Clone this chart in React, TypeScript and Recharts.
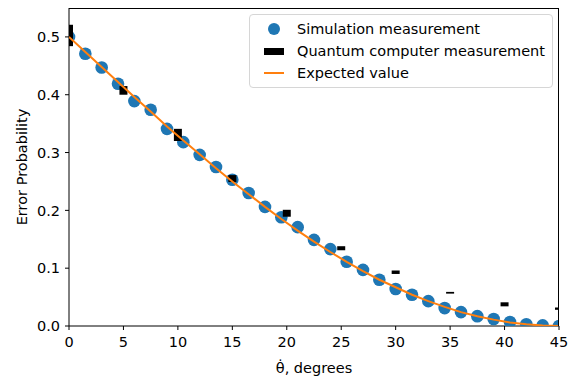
import { ComposedChart, Scatter, XAxis, YAxis } from "recharts";

const simAngles = [0, 1.5, 3, 4.5, 6, 7.5, 9, 10.5, 12, 13.5, 15, 16.5, 18, 19.5, 21, 22.5, 24, 25.5, 27, 28.5, 30, 31.5, 33, 34.5, 36, 37.5, 39, 40.5, 42, 43.5, 45];
const simValues = [0.5, 0.471, 0.447, 0.419, 0.389, 0.374, 0.341, 0.318, 0.296, 0.275, 0.253, 0.23, 0.206, 0.188, 0.171, 0.149, 0.133, 0.111, 0.097, 0.08, 0.064, 0.054, 0.043, 0.031, 0.024, 0.017, 0.012, 0.007, 0.003, 0.001, 0.0];

const qcAngles = [0, 5, 10, 15, 20, 25, 30, 35, 40, 45];
const qcLow = [0.484, 0.4, 0.32, 0.249, 0.189, 0.131, 0.09, 0.056, 0.034, 0.028];
const qcHigh = [0.521, 0.415, 0.341, 0.261, 0.201, 0.138, 0.096, 0.059, 0.041, 0.032];

const expAngles = [0, 1.5, 3, 4.5, 6, 7.5, 9, 10.5, 12, 13.5, 15, 16.5, 18, 19.5, 21, 22.5, 24, 25.5, 27, 28.5, 30, 31.5, 33, 34.5, 36, 37.5, 39, 40.5, 42, 43.5, 45];
const expValues = [0.5, 0.474, 0.448, 0.422, 0.396, 0.371, 0.345, 0.321, 0.297, 0.273, 0.25, 0.228, 0.206, 0.185, 0.165, 0.146, 0.128, 0.111, 0.095, 0.08, 0.067, 0.054, 0.043, 0.033, 0.024, 0.017, 0.011, 0.006, 0.003, 0.001, 0.0];

const xTicks = [0, 5, 10, 15, 20, 25, 30, 35, 40, 45];
const yTicks = [0, 0.1, 0.2, 0.3, 0.4, 0.5];

const BLUE = "#1f77b4";
const ORANGE = "#ff7f0e";
const FONT = "'DejaVu Sans', sans-serif";
const FS = 14.5;

const simData = simAngles.map((x, i) => ({ x, y: simValues[i] }));
const qcBars = qcAngles.map((x, i) => [
	{ x, y: qcLow[i] },
	{ x, y: qcHigh[i] },
]);
const expData = expAngles.map((x, i) => ({ x, y: expValues[i] }));

const tickStyle = { fontSize: FS, fill: "#000", fontFamily: FONT };
const noShape = () => <g />;

const Legend = () => (
	<div
		style={{
			position: "absolute",
			left: 249,
			top: 14,
			width: 302,
			height: 72,
			border: "1px solid #d6d6d6",
			borderRadius: 4,
			background: "rgba(255,255,255,0.8)",
			fontFamily: FONT,
			fontSize: FS,
			color: "#000",
		}}
	>
		{[
			{ label: "Simulation measurement", kind: "dot" },
			{ label: "Quantum computer measurement", kind: "bar" },
			{ label: "Expected value", kind: "line" },
		].map((row, i) => (
			<div key={row.label} style={{ position: "absolute", left: 0, top: 3 + i * 22, height: 22, display: "flex", alignItems: "center" }}>
				<div style={{ width: 47, display: "flex", justifyContent: "center", alignItems: "center" }}>
					{row.kind === "dot" && <span style={{ width: 12, height: 12, borderRadius: "50%", background: BLUE, display: "inline-block" }} />}
					{row.kind === "bar" && <span style={{ width: 20, height: 7, background: "#000", display: "inline-block" }} />}
					{row.kind === "line" && <span style={{ width: 20, height: 2, background: ORANGE, display: "inline-block" }} />}
				</div>
				<span>{row.label}</span>
			</div>
		))}
	</div>
);

export default function App() {
	return (
		<div style={{ position: "absolute", left: 0, top: 0, width: 570, height: 380, background: "#fff" }}>
			<ComposedChart width={570} height={380} margin={{ top: 8, right: 11, bottom: 24, left: 0 }}>
				<XAxis
					dataKey="x"
					type="number"
					domain={[0, 45]}
					ticks={xTicks}
					allowDataOverflow
					tick={tickStyle}
					tickSize={4}
					tickMargin={7}
					height={30}
					stroke="#000"
				/>
				<YAxis
					dataKey="y"
					type="number"
					domain={[0, 0.55]}
					ticks={yTicks}
					allowDataOverflow
					tickFormatter={(v) => v.toFixed(1)}
					tick={tickStyle}
					tickSize={4}
					tickMargin={5}
					width={69}
					stroke="#000"
				/>
				<Scatter
					data={simData}
					dataKey="y"
					isAnimationActive={false}
					shape={(p: any) => <circle cx={p.cx} cy={p.cy} r={6.3} fill={BLUE} />}
				/>
				{qcBars.map((bar, i) => (
					<Scatter
						key={`qc-${i}`}
						data={bar}
						dataKey="y"
						isAnimationActive={false}
						shape={noShape}
						line={{ stroke: "#000", strokeWidth: 8, strokeLinecap: "butt" }}
						lineType="joint"
					/>
				))}
				<Scatter
					data={expData}
					dataKey="y"
					isAnimationActive={false}
					shape={noShape}
					line={{ stroke: ORANGE, strokeWidth: 2 }}
					lineType="joint"
				/>
			</ComposedChart>
			<div
				style={{
					position: "absolute",
					left: 69,
					top: 8,
					width: 490,
					height: 318,
					boxSizing: "border-box",
					borderTop: "1px solid #000",
					borderRight: "1px solid #000",
					pointerEvents: "none",
				}}
			/>
			<Legend />
			<div
				style={{
					position: "absolute",
					left: 22,
					top: 167,
					transform: "translate(-50%, -50%) rotate(-90deg)",
					whiteSpace: "nowrap",
					fontFamily: FONT,
					fontSize: FS,
				}}
			>
				Error Probability
			</div>
			<div
				style={{
					position: "absolute",
					left: 314,
					top: 368,
					transform: "translate(-50%, -50%)",
					whiteSpace: "nowrap",
					fontFamily: FONT,
					fontSize: FS,
				}}
			>
				θ̇, degrees
			</div>
		</div>
	);
}
